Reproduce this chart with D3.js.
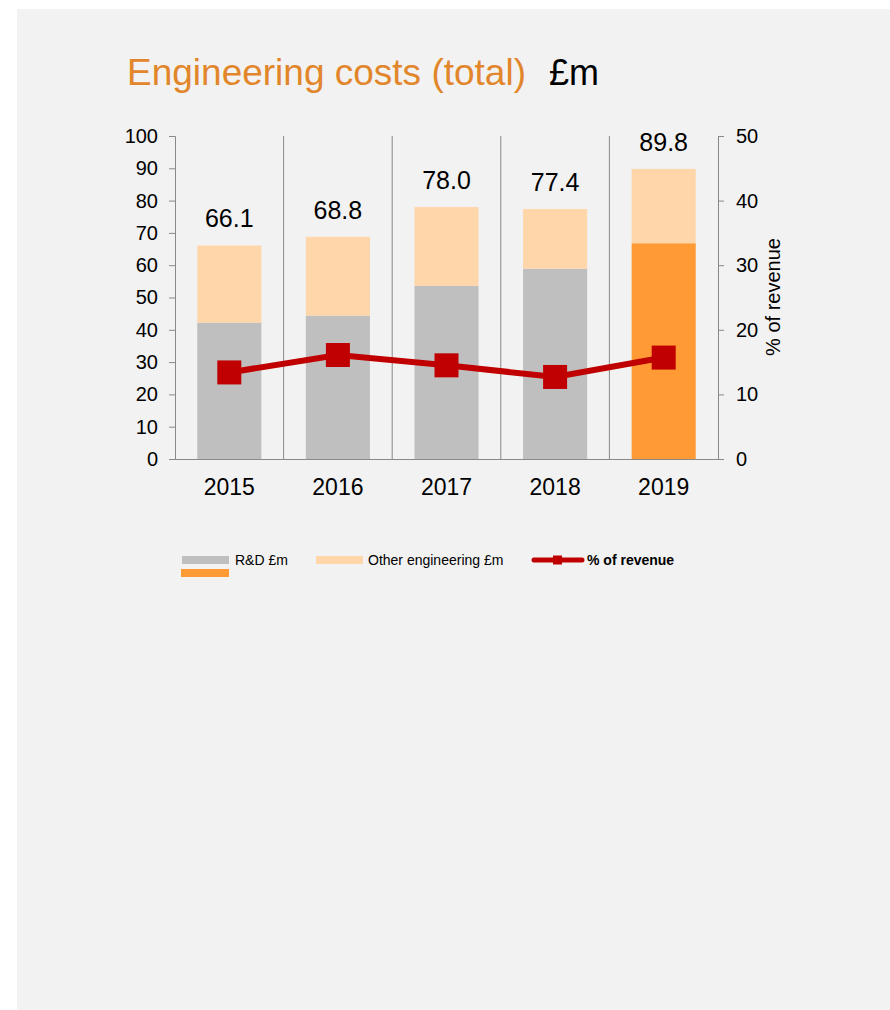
<!DOCTYPE html>
<html>
<head>
<meta charset="utf-8">
<script src="https://cdn.jsdelivr.net/npm/d3@7"></script>
<style>
  html, body { margin: 0; padding: 0; background: #ffffff; }
  svg { display: block; font-family: "Liberation Sans", Arial, sans-serif; }
</style>
</head>
<body>
<svg id="chart" width="890" height="1010"></svg>
<script>
// ---- data ----
const years = ["2015", "2016", "2017", "2018", "2019"];
const rdValues = [42.2, 44.4, 53.6, 58.9, 66.8];
const totalValues = [66.1, 68.8, 78.0, 77.4, 89.8];
const totalLabels = ["66.1", "68.8", "78.0", "77.4", "89.8"];
const pctRevenue = [13.4, 16.1, 14.5, 12.7, 15.7];
const leftTicks = [0, 10, 20, 30, 40, 50, 60, 70, 80, 90, 100];
const rightTicks = [0, 10, 20, 30, 40, 50];
const legendLabels = ["R&D £m", "Other engineering £m", "% of revenue"];

// ---- styles ----
const C = {
  panel: "#f2f2f2",
  title: "#e2862b",
  rd: "#bfbfbf",
  rdHighlight: "#ff9a35",
  other: "#ffd5aa",
  line: "#c00000",
  axis: "#898989",
  text: "#000000"
};

const svg = d3.select("#chart");
svg.append("rect").attr("x", 17).attr("y", 9).attr("width", 873).attr("height", 1001).attr("fill", C.panel);

// title
svg.append("text").attr("x", 127).attr("y", 85).attr("font-size", 37).attr("fill", C.title).text("Engineering costs (total)");
svg.append("text").attr("x", 549).attr("y", 85).attr("font-size", 36).attr("fill", C.text).text("£m");

const pLeft = 175, pRight = 718, pTop = 136, pBottom = 459;

const x = d3.scaleBand().domain(years).range([pLeft, pRight]).paddingInner(0.41).paddingOuter(0.205);
const yL = d3.scaleLinear().domain([0, 100]).range([pBottom, pTop]);
const yR = d3.scaleLinear().domain([0, 50]).range([pBottom, pTop]);

// separators between categories
const step = x.step();
const sepX = d3.range(1, years.length).map(i => pLeft + i * step);
svg.append("g").selectAll("line").data(sepX).join("line")
  .attr("x1", d => d).attr("x2", d => d)
  .attr("y1", pTop).attr("y2", pBottom)
  .attr("stroke", C.axis).attr("stroke-width", 1);

// bars
const data = years.map((y, i) => ({ year: y, rd: rdValues[i], total: totalValues[i], label: totalLabels[i], pct: pctRevenue[i], i }));
const bars = svg.append("g");
bars.selectAll("rect.rd").data(data).join("rect")
  .attr("class", "rd")
  .attr("x", d => x(d.year)).attr("width", x.bandwidth())
  .attr("y", d => yL(d.rd)).attr("height", d => yL(0) - yL(d.rd))
  .attr("fill", d => d.i === years.length - 1 ? C.rdHighlight : C.rd);
bars.selectAll("rect.other").data(data).join("rect")
  .attr("class", "other")
  .attr("x", d => x(d.year)).attr("width", x.bandwidth())
  .attr("y", d => yL(d.total)).attr("height", d => yL(d.rd) - yL(d.total))
  .attr("fill", C.other);

// value labels
svg.append("g").selectAll("text").data(data).join("text")
  .attr("x", d => x(d.year) + x.bandwidth() / 2)
  .attr("y", d => yL(d.total) - 18)
  .attr("text-anchor", "middle").attr("font-size", 25).attr("fill", C.text)
  .text(d => d.label);

// left axis
const gL = svg.append("g").attr("transform", `translate(${pLeft},0)`)
  .call(d3.axisLeft(yL).tickValues(leftTicks).tickSize(6).tickPadding(11).tickFormat(d3.format("d")));
gL.selectAll("path, line").attr("stroke", C.axis);
gL.selectAll("text").attr("font-size", 20).attr("fill", C.text).attr("font-family", "Liberation Sans, Arial, sans-serif");

// right axis
const gR = svg.append("g").attr("transform", `translate(${pRight},0)`)
  .call(d3.axisRight(yR).tickValues(rightTicks).tickSize(6).tickPadding(12).tickFormat(d3.format("d")));
gR.selectAll("path, line").attr("stroke", C.axis);
gR.selectAll("text").attr("font-size", 20).attr("fill", C.text).attr("font-family", "Liberation Sans, Arial, sans-serif");

// bottom axis
const gB = svg.append("g").attr("transform", `translate(0,${pBottom})`)
  .call(d3.axisBottom(x).tickSize(0).tickPadding(20));
gB.select("path").attr("stroke", C.axis).attr("d", `M${pLeft},0.5H${pRight}`);
gB.selectAll("text").attr("font-size", 23).attr("fill", C.text).attr("font-family", "Liberation Sans, Arial, sans-serif");

// right axis title
svg.append("text")
  .attr("transform", `translate(780,297) rotate(-90)`)
  .attr("text-anchor", "middle").attr("font-size", 20).attr("fill", C.text)
  .text("% of revenue");

// line + markers
const cx = d => x(d.year) + x.bandwidth() / 2;
svg.append("path").datum(data)
  .attr("d", d3.line().x(cx).y(d => yR(d.pct)))
  .attr("fill", "none").attr("stroke", C.line).attr("stroke-width", 6);
const ms = 24;
svg.append("g").selectAll("rect").data(data).join("rect")
  .attr("x", d => cx(d) - ms / 2).attr("y", d => yR(d.pct) - ms / 2)
  .attr("width", ms).attr("height", ms).attr("fill", C.line);

// legend
const lg = svg.append("g").attr("font-size", 14).attr("fill", C.text);
lg.append("rect").attr("x", 182).attr("y", 556).attr("width", 47).attr("height", 8).attr("fill", C.rd);
lg.append("rect").attr("x", 181).attr("y", 569).attr("width", 48).attr("height", 8).attr("fill", C.rdHighlight);
lg.append("text").attr("x", 235).attr("y", 565).text(legendLabels[0]);
lg.append("rect").attr("x", 316).attr("y", 556).attr("width", 47).attr("height", 8).attr("fill", C.other);
lg.append("text").attr("x", 368).attr("y", 565).text(legendLabels[1]);
lg.append("line").attr("x1", 534).attr("x2", 582).attr("y1", 560).attr("y2", 560)
  .attr("stroke", C.line).attr("stroke-width", 5).attr("stroke-linecap", "round");
lg.append("rect").attr("x", 553).attr("y", 555.5).attr("width", 9).attr("height", 9).attr("fill", C.line);
lg.append("text").attr("x", 587).attr("y", 565).attr("font-weight", "bold").text(legendLabels[2]);
</script>
</body>
</html>
